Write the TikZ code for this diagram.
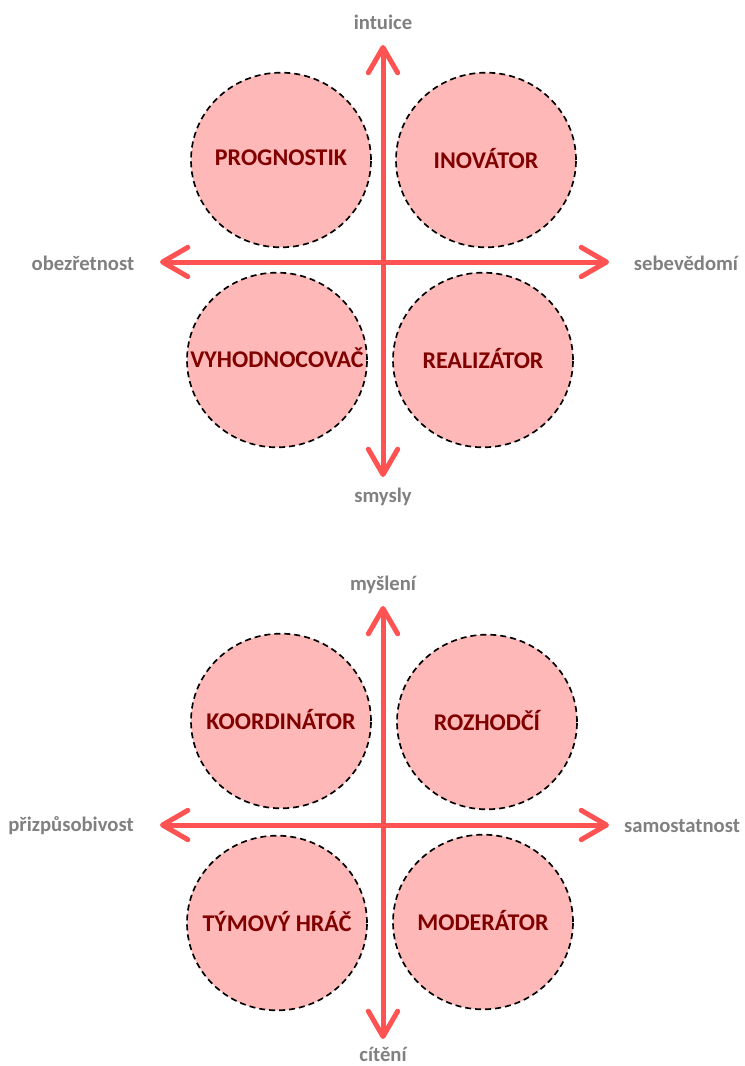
\documentclass[tikz,border=0pt]{standalone}
\usepackage{fontspec}
\setmainfont{Carlito}
\usepackage{tikz}
\usetikzlibrary{positioning,shapes.geometric,arrows.meta}

\definecolor{axisred}{HTML}{FF5252}
\definecolor{rolefill}{HTML}{FFB8B8}
\definecolor{roletext}{HTML}{800000}
\definecolor{poletext}{HTML}{808080}

% name centred over the circle, not widening it
\newcommand{\rolename}[1]{\makebox[0pt]{\raisebox{3pt}{#1}}}

\begin{document}
\begin{tikzpicture}[x=0.75pt,y=-0.75pt,
		role/.style={ellipse,draw,dashed,dash pattern=on 4.5pt off 3pt,line width=1.25pt,fill=rolefill,
			minimum width=135pt,minimum height=131pt,inner sep=0pt,
			font=\bfseries\fontsize{18}{20}\selectfont,text=roletext},
		pole/.style={font=\bfseries\fontsize{15.5}{18}\selectfont,text=poletext},
		axis/.style={draw=axisred,line width=3.75pt,
			{Straight Barb[round,length=19pt,width=22pt]}-{Straight Barb[round,length=19pt,width=22pt]}}]
	
	\useasboundingbox (0,0) rectangle (745,1066);
	
	% vnimani
	\node[role] (prognostik) at (281,160) {\rolename{PROGNOSTIK}};
	\node[role] (inovator) at (486,160) {\rolename{INOVÁTOR}};
	\node[role] (vyhodnocovac) at (277,360) {\rolename{VYHODNOCOVAČ}};
	\node[role] (realizator) at (483,360) {\rolename{REALIZÁTOR}};
	
	\node[pole] (intuice) at (383,22) {intuice};
	\node[pole] (smysly) at (383,497) {smysly};
	\node[pole] (obezretnost) at (83,263) {obezřetnost};
	\node[pole] (sebevedomi) at (686,263) {sebevědomí};
	
	\coordinate (tN) at (383,45);
	\coordinate (tS) at (383,477);
	\coordinate (tW) at (160,262);
	\coordinate (tE) at (609,262);
	
	\draw[axis] (tS) -- (tN);
	\draw[axis] (tW) -- (tE);
	
	% rozhodovani
	\node[role] (koordinator) at (281,721) {\rolename{KOORDINÁTOR}};
	\node[role] (rozhodci) at (487,722) {\rolename{ROZHODČÍ}};
	\node[role] (tymovy) at (277,923) {\rolename{TÝMOVÝ HRÁČ}};
	\node[role] (moderator) at (483,922) {\rolename{MODERÁTOR}};
	
	\node[pole] (mysleni) at (383,585) {myšlení};
	\node[pole] (citeni) at (383,1054) {cítění};
	\node[pole] (prizpusobivost) at (71,826) {přizpůsobivost};
	\node[pole] (samostatnost) at (682,826) {samostatnost};
	
	\coordinate (bN) at (383,606);
	\coordinate (bS) at (383,1039);
	\coordinate (bW) at (160,825);
	\coordinate (bE) at (609,825);
	
	\draw[axis] (bS) -- (bN);
	\draw[axis] (bW) -- (bE);
	
\end{tikzpicture}
\end{document}
